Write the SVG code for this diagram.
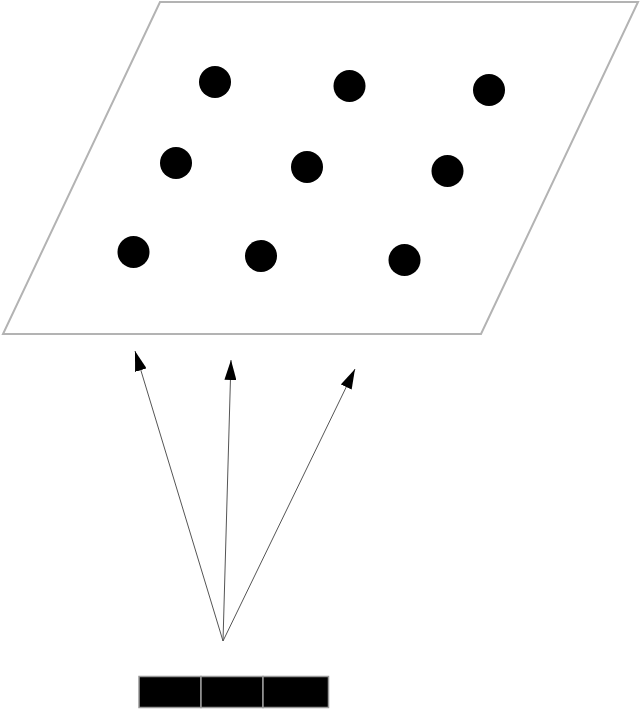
<svg xmlns="http://www.w3.org/2000/svg" width="640" height="709" viewBox="0 0 640 709">
<style>
.plane{fill:#fff;stroke:#b3b3b3;stroke-width:2}
.dot{fill:#000}
.conn{stroke:#555;stroke-width:1;fill:none;marker-end:url(#ah)}
.cell{fill:#000;stroke:#999;stroke-width:1.5}
</style>
<defs>
<marker id="ah" viewBox="0 0 20 12" refX="20" refY="6" markerWidth="20" markerHeight="12" markerUnits="userSpaceOnUse" orient="auto">
<path d="M0,0 L20,6 L0,12 Z" fill="#000"/>
</marker>
</defs>
<rect width="640" height="709" fill="#fff"/>
<g id="plane"><polygon class="plane" points="160,2 638,2 481,334 3,334"/></g>
<g id="dots">
<circle id="d1" class="dot" cx="215" cy="82" r="16"/>
<circle id="d2" class="dot" cx="349.5" cy="86" r="16"/>
<circle id="d3" class="dot" cx="489" cy="90" r="16"/>
<circle id="d4" class="dot" cx="176" cy="163" r="16"/>
<circle id="d5" class="dot" cx="307" cy="167" r="16"/>
<circle id="d6" class="dot" cx="447.5" cy="171" r="16"/>
<circle id="d7" class="dot" cx="133.5" cy="252" r="16"/>
<circle id="d8" class="dot" cx="261" cy="256" r="16"/>
<circle id="d9" class="dot" cx="404.5" cy="260" r="16"/>
</g>
<g id="connectors">
<line class="conn" x1="223" y1="641" x2="135" y2="351"/>
<line class="conn" x1="223" y1="641" x2="231" y2="360"/>
<line class="conn" x1="223" y1="641" x2="355" y2="369"/>
</g>
<g id="array">
<rect class="cell" x="139" y="676.5" width="62" height="31"/>
<rect class="cell" x="201" y="676.5" width="62" height="31"/>
<rect class="cell" x="263" y="676.5" width="65.5" height="31"/>
</g>
</svg>
